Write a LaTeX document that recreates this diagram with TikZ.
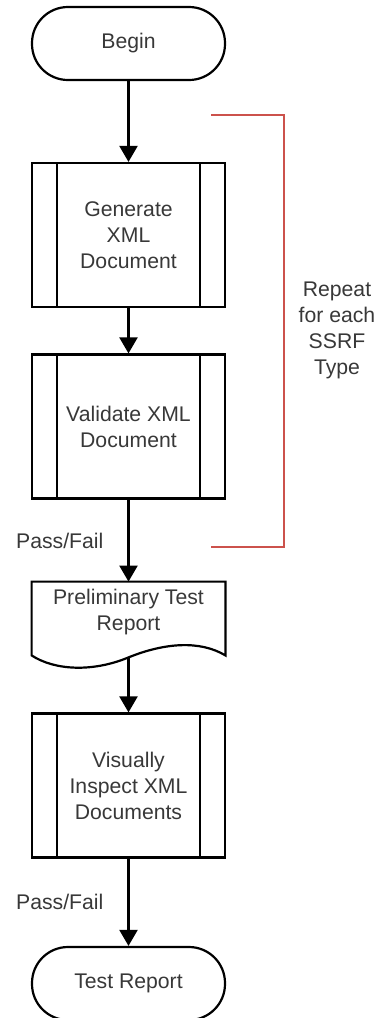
\documentclass[tikz,border=0pt]{standalone}
\usepackage{fontspec}
\setmainfont{Liberation Sans}
\usepackage{tikz}
\usetikzlibrary{arrows.meta}
\definecolor{flowgray}{rgb}{0.22,0.22,0.22}
\definecolor{loopred}{rgb}{0.80,0.32,0.30}

\begin{document}
\begin{tikzpicture}[x=0.5pt,y=-0.5pt,
        every node/.style={font=\fontsize{10.6}{13}\selectfont, text=flowgray, align=center},
        terminal/.style={draw=black, line width=1.1pt, rounded corners=18pt,
            minimum width=96.5pt, minimum height=36.5pt, inner sep=0pt},
        subproc/.style={draw=black, line width=1.1pt, minimum width=96.5pt,
            minimum height=72pt, inner sep=0pt,
            path picture={\draw[line width=1.1pt]
                ([xshift=12.5pt]path picture bounding box.north west) -- ([xshift=12.5pt]path picture bounding box.south west)
                ([xshift=-12.5pt]path picture bounding box.north east) -- ([xshift=-12.5pt]path picture bounding box.south east);}},
        docbox/.style={minimum width=96.5pt, minimum height=37.5pt, inner sep=0pt},
        flow/.style={line width=1.1pt, -{Triangle[width=9pt,length=8pt]}},
        lbl/.style={inner sep=1pt},
        bracket/.style={draw=loopred, line width=1.1pt}
    ]
    \useasboundingbox (0,0) rectangle (383,1018);

    \node[terminal] (begin) at (128.5,43.5) {Begin};
    \node[subproc] (gen) at (128.5,235) {Generate\\XML\\Document};
    \node[subproc] (val) at (128.5,426.5) {Validate XML\\Document};
    \node[docbox] (prelim) at (128.5,619.5) {};
    \node (prelimtxt) at (128.5,612) {Preliminary Test\\Report};
    \node[subproc] (vis) at (128.5,785.5) {Visually\\Inspect XML\\Documents};
    \node[terminal] (end) at (128.5,983.5) {Test Report};

    % document outline with wavy bottom
    \draw[line width=1.1pt] (prelim.north west) -- (prelim.north east)
        -- ([yshift=1pt]prelim.south east)
        .. controls +(-25,-15) and +(37,-15) .. (prelim.south)
        .. controls +(-36,15) and +(23,15) .. ([yshift=1pt]prelim.south west)
        -- cycle;

    \draw[flow] (begin) -- (gen);
    \draw[flow] (gen) -- (val);
    \draw[flow] (val) -- node[lbl, left=11pt] (pf1) {Pass/Fail} (prelim);
    \draw[flow] (prelim.south) -- (vis);
    \draw[flow] (vis) -- node[lbl, left=11pt] (pf2) {Pass/Fail} (end);

    % repeat bracket
    \coordinate (brtop) at (211,115);
    \coordinate (brbot) at (211,547);
    \draw[bracket] (brtop) -- (284,115) -- (284,547) -- (brbot);
    \node (repeat) at (337,330) {Repeat\\for each\\SSRF\\Type};
\end{tikzpicture}
\end{document}
